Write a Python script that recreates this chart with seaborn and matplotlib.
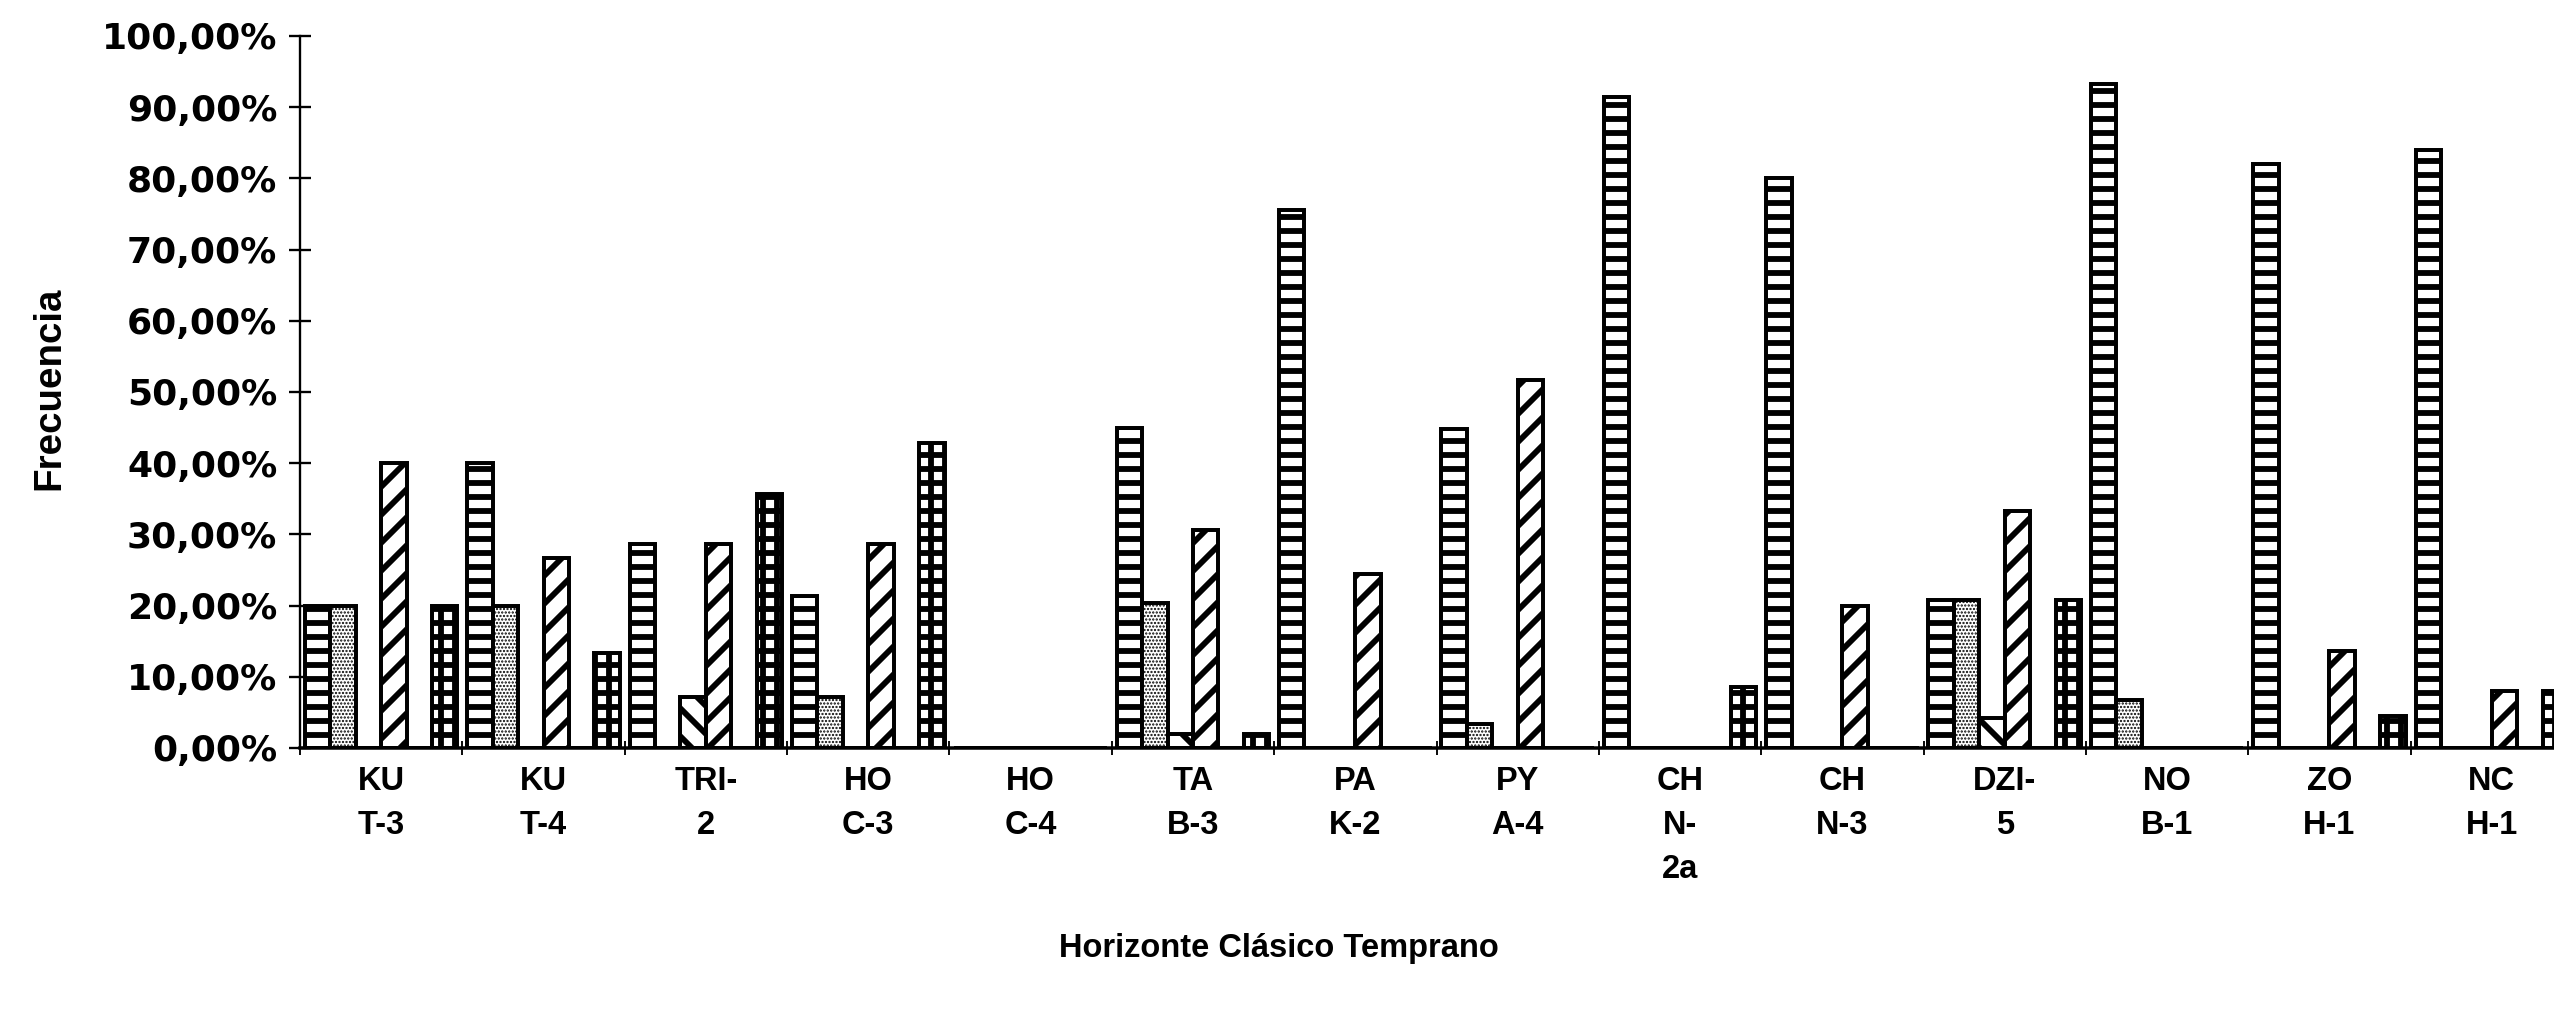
# -*- coding: utf-8 -*-
import pandas as pd
import matplotlib
matplotlib.use("Agg")
import matplotlib.pyplot as plt
import seaborn as sns
from matplotlib.ticker import FixedLocator, FuncFormatter

# ==========================================
# 1. Data (frequency in %)
# ==========================================
sitios = ["KU\nT-3", "KU\nT-4", "TRI-\n2", "HO\nC-3", "HO\nC-4", "TA\nB-3", "PA\nK-2",
          "PY\nA-4", "CH\nN-\n2a", "CH\nN-3", "DZI-\n5", "NO\nB-1", "ZO\nH-1", "NC\nH-1"]

tipos = ["Tipo 1", "Tipo 2", "Tipo 3", "Tipo 4", "Tipo 5", "Tipo 6"]

tipo_1 = [20.0, 40.0, 28.6, 21.4, 0.0, 44.9, 75.5, 44.8, 91.5, 80.0, 20.8, 93.3, 82.0, 84.0]
tipo_2 = [20.0, 20.0, 0.0, 7.1, 0.0, 20.4, 0.0, 3.4, 0.0, 0.0, 20.8, 6.7, 0.0, 0.0]
tipo_3 = [0.0, 0.0, 7.1, 0.0, 0.0, 2.0, 0.0, 0.0, 0.0, 0.0, 4.2, 0.0, 0.0, 0.0]
tipo_4 = [40.0, 26.7, 28.6, 28.6, 0.0, 30.6, 24.5, 51.7, 0.0, 20.0, 33.3, 0.0, 13.6, 8.0]
tipo_5 = [0.0, 0.0, 0.0, 0.0, 0.0, 0.0, 0.0, 0.0, 0.0, 0.0, 0.0, 0.0, 0.0, 0.0]
tipo_6 = [20.0, 13.3, 35.7, 42.9, 0.0, 2.0, 0.0, 0.0, 8.5, 0.0, 20.8, 0.0, 4.5, 8.0]

series = [tipo_1, tipo_2, tipo_3, tipo_4, tipo_5, tipo_6]
hatches = ["-", "....", "\\", "/", "", "+"]

rows = []
for tipo, valores in zip(tipos, series):
    for sitio, v in zip(sitios, valores):
        rows.append({"sitio": sitio, "tipo": tipo, "frecuencia": v})
df = pd.DataFrame(rows)

# ==========================================
# 2. Style
# ==========================================
sns.set_style("white")
plt.rcParams["font.family"] = ["Liberation Sans", "DejaVu Sans"]
plt.rcParams["hatch.linewidth"] = 5.0
plt.rcParams["hatch.color"] = "black"
plt.rcParams["text.color"] = "black"
plt.rcParams["xtick.color"] = "black"
plt.rcParams["ytick.color"] = "black"

DPI = 84
fig = plt.figure(figsize=(2554 / DPI, 1023 / DPI), dpi=DPI)
ax = fig.add_axes([300 / 2554, 1 - 748 / 1023, 2273 / 2554, 712 / 1023])

# ==========================================
# 3. Bars
# ==========================================
sns.barplot(
    data=df, x="sitio", y="frecuencia", hue="tipo",
    order=sitios, hue_order=tipos,
    palette=["white"] * len(tipos),
    edgecolor="black", linewidth=3.4, width=0.94,
    legend=False, ax=ax
)
for cont, h in zip(ax.containers, hatches):
    for bar in cont:
        bar.set_hatch(h)
        if h == "....":
            try:
                bar.set_hatch_linewidth(1.3)
            except AttributeError:
                pass

# ==========================================
# 4. Axes, ticks and labels
# ==========================================
ax.set_ylim(0, 100)
ax.set_xlim(-0.5, len(sitios) - 0.5)
ax.set_yticks(range(0, 101, 10))
ax.yaxis.set_major_formatter(FuncFormatter(lambda v, p: f"{v:.2f}%".replace(".", ",")))
ax.tick_params(axis="y", direction="inout", length=19, width=2.0, pad=10,
               labelsize=31, left=True)
for lab in ax.get_yticklabels():
    lab.set_family("DejaVu Sans")
    lab.set_fontweight("bold")

ax.xaxis.set_minor_locator(FixedLocator([i - 0.5 for i in range(len(sitios) + 1)]))
ax.tick_params(axis="x", which="major", length=0, pad=15, labelsize=28)
ax.tick_params(axis="x", which="minor", direction="inout", length=12, width=1.6, bottom=True)
for lab in ax.get_xticklabels():
    lab.set_linespacing(1.55)
    lab.set_fontweight("bold")

for s in ["top", "right"]:
    ax.spines[s].set_visible(False)
ax.spines["left"].set_linewidth(2.0)
ax.spines["bottom"].set_linewidth(3.0)
ax.spines["left"].set_color("black")
ax.spines["bottom"].set_color("black")

ax.set_xlabel("")
ax.set_ylabel("")
fig.text(49 / 2554, 1 - 388 / 1023, "Frecuencia", rotation=90, fontsize=33,
         fontweight="bold", ha="center", va="center")
fig.text(1279 / 2554, 1 - 948 / 1023, "Horizonte Clásico Temprano", fontsize=28,
         fontweight="bold", ha="center", va="center")

fig.savefig("out.png", dpi=DPI)
